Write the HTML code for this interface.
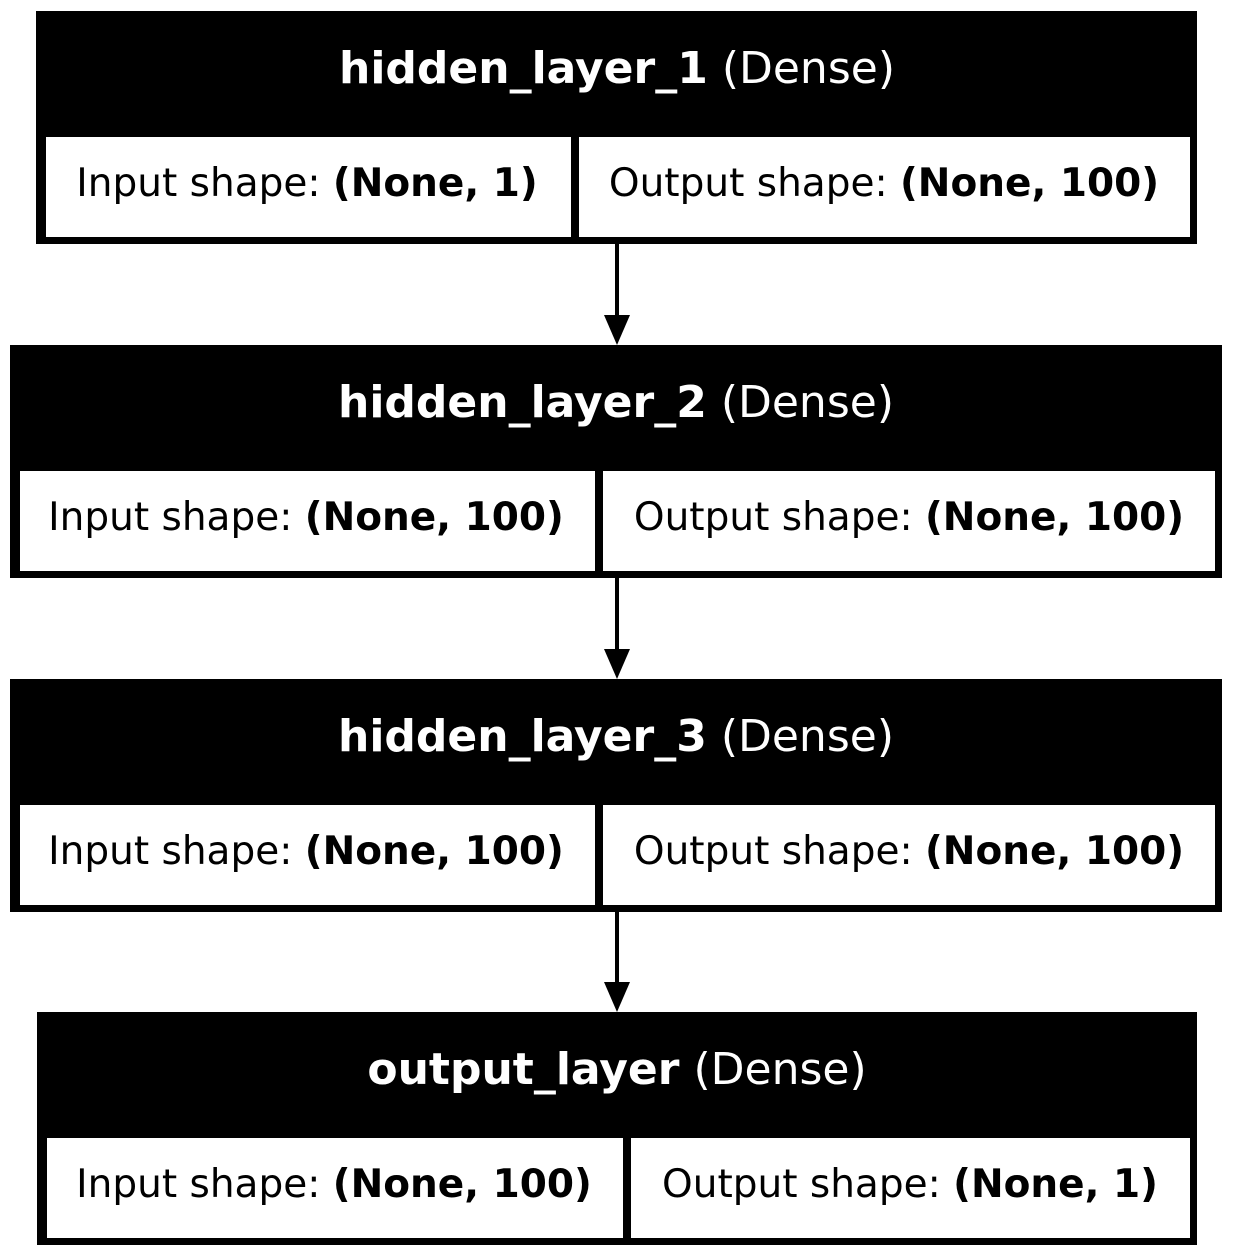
<!DOCTYPE html>
<html><head><style>html,body{margin:0;padding:0;background:#fff}svg{display:block}</style></head>
<body>
<svg width="1233" height="1256" viewBox="0 0 1233 1256" xmlns="http://www.w3.org/2000/svg" font-family="DejaVu Sans, Liberation Sans, sans-serif" font-size="39">
<rect width="1233" height="1256" fill="#fff"/>
<!-- Box 1 -->
<rect x="36" y="11" width="1161" height="233" fill="#000"/>
<rect x="46" y="137" width="525" height="100" fill="#fff"/>
<rect x="579" y="137" width="611" height="100" fill="#fff"/>
<text x="617" y="83" fill="#fff" text-anchor="middle" font-size="44"><tspan font-weight="bold">hidden_layer_1</tspan> (Dense)</text>
<text x="307" y="196" text-anchor="middle">Input shape: <tspan font-weight="bold">(None, 1)</tspan></text>
<text x="884" y="196" text-anchor="middle">Output shape: <tspan font-weight="bold">(None, 100)</tspan></text>
<!-- arrow 1 -->
<rect x="615" y="244" width="4" height="72" fill="#000"/>
<polygon points="604,315 630,315 617,345" fill="#000"/>
<!-- Box 2 -->
<rect x="10" y="345" width="1212" height="233" fill="#000"/>
<rect x="20" y="471" width="575" height="100" fill="#fff"/>
<rect x="603" y="471" width="612" height="100" fill="#fff"/>
<text x="616" y="417" fill="#fff" text-anchor="middle" font-size="44"><tspan font-weight="bold">hidden_layer_2</tspan> (Dense)</text>
<text x="306" y="530" text-anchor="middle">Input shape: <tspan font-weight="bold">(None, 100)</tspan></text>
<text x="909" y="530" text-anchor="middle">Output shape: <tspan font-weight="bold">(None, 100)</tspan></text>
<!-- arrow 2 -->
<rect x="615" y="578" width="4" height="72" fill="#000"/>
<polygon points="604,649 630,649 617,679" fill="#000"/>
<!-- Box 3 -->
<rect x="10" y="679" width="1212" height="233" fill="#000"/>
<rect x="20" y="805" width="575" height="100" fill="#fff"/>
<rect x="603" y="805" width="612" height="100" fill="#fff"/>
<text x="616" y="751" fill="#fff" text-anchor="middle" font-size="44"><tspan font-weight="bold">hidden_layer_3</tspan> (Dense)</text>
<text x="306" y="864" text-anchor="middle">Input shape: <tspan font-weight="bold">(None, 100)</tspan></text>
<text x="909" y="864" text-anchor="middle">Output shape: <tspan font-weight="bold">(None, 100)</tspan></text>
<!-- arrow 3 -->
<rect x="615" y="912" width="4" height="71" fill="#000"/>
<polygon points="604,982 630,982 617,1012" fill="#000"/>
<!-- Box 4 -->
<rect x="37" y="1012" width="1160" height="233" fill="#000"/>
<rect x="47" y="1138" width="576" height="100" fill="#fff"/>
<rect x="631" y="1138" width="559" height="100" fill="#fff"/>
<text x="617" y="1084" fill="#fff" text-anchor="middle" font-size="44"><tspan font-weight="bold">output_layer</tspan> (Dense)</text>
<text x="334" y="1197" text-anchor="middle">Input shape: <tspan font-weight="bold">(None, 100)</tspan></text>
<text x="910" y="1197" text-anchor="middle">Output shape: <tspan font-weight="bold">(None, 1)</tspan></text>
</svg>
</body></html>
